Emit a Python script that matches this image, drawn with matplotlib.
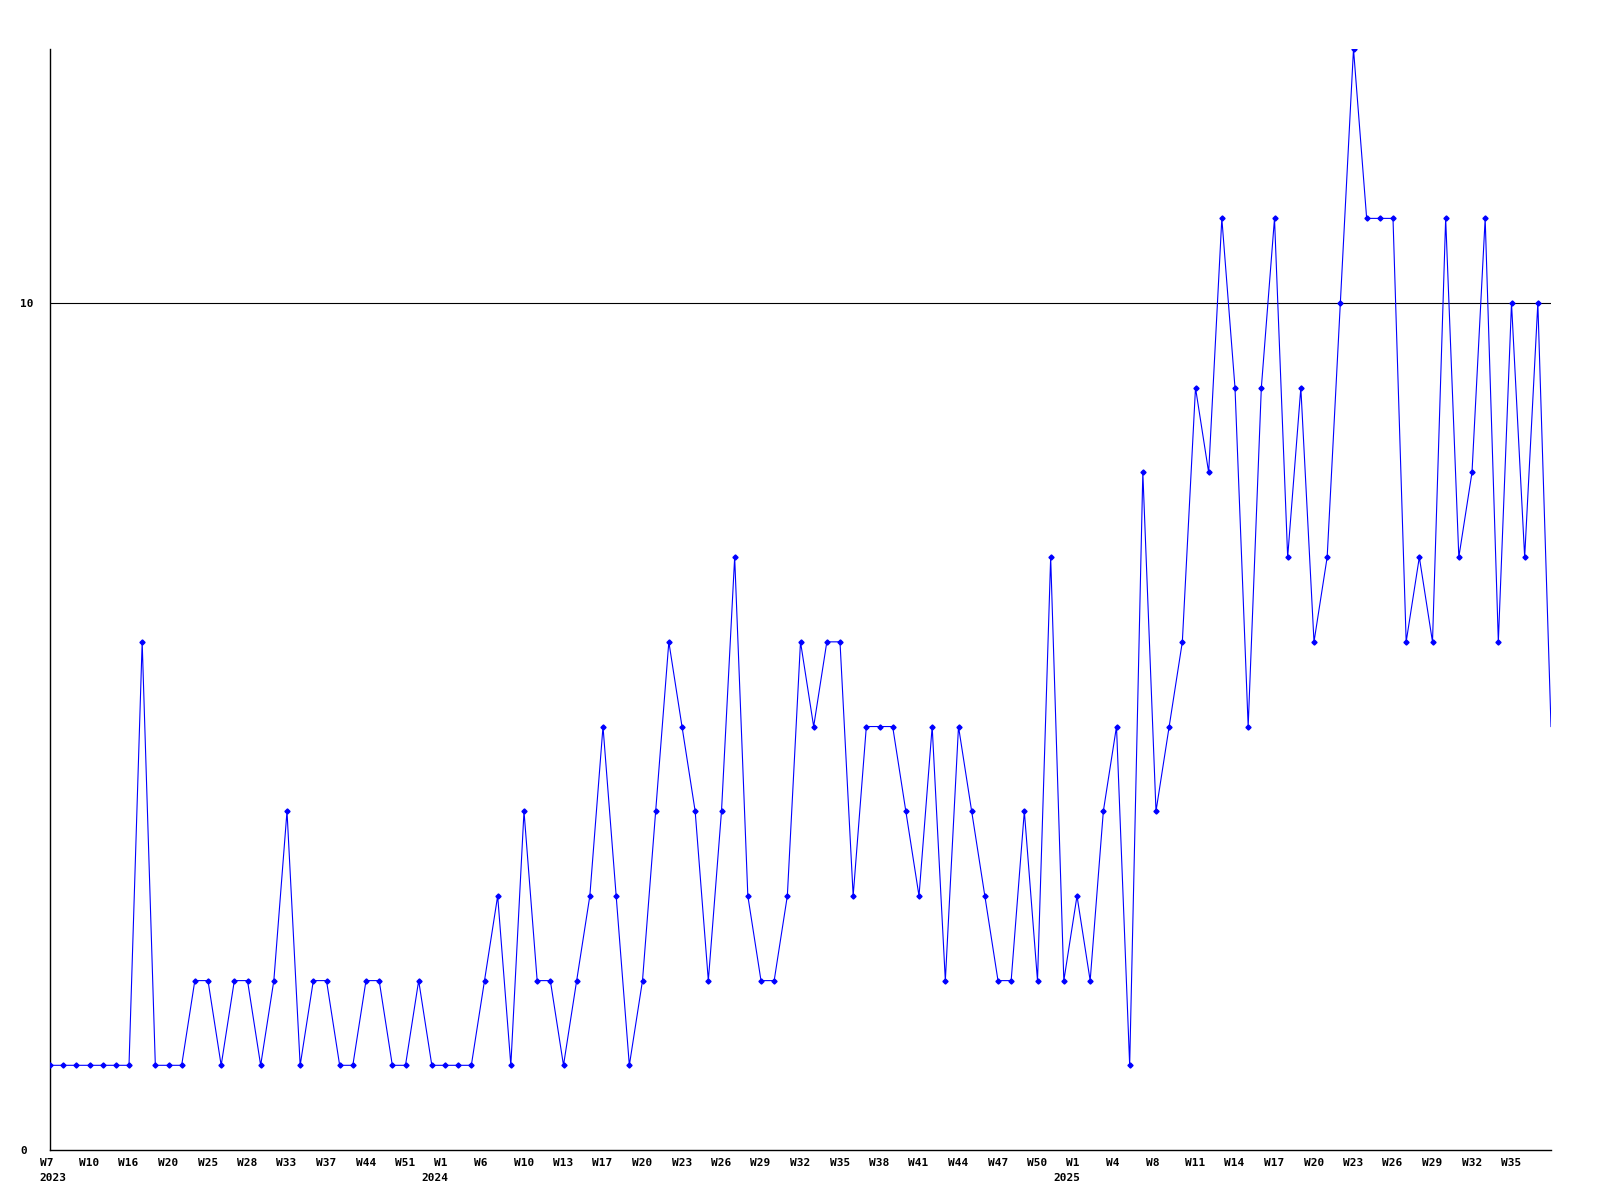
import matplotlib
matplotlib.use("Agg")
import matplotlib.pyplot as plt
from matplotlib.transforms import ScaledTranslation

weeks = ["W7", "", "", "W10", "", "", "W16", "", "", "W20", "", "", "W25", "", "", "W28", "", "", "W33", "", "", "W37", "", "", "W44", "", "", "W51", "", "",
         "W1", "", "", "W6", "", "", "W10", "", "", "W13", "", "", "W17", "", "", "W20", "", "", "W23", "", "", "W26", "", "", "W29", "", "", "W32", "", "",
         "W35", "", "", "W38", "", "", "W41", "", "", "W44", "", "", "W47", "", "", "W50", "", "",
         "W1", "", "", "W4", "", "", "W8", "", "", "W11", "", "", "W14", "", "", "W17", "", "", "W20", "", "", "W23", "", "", "W26", "", "", "W29", "", "",
         "W32", "", "", "W35", "", "", ""]
years = {0: "2023", 30: "2024", 78: "2025"}

values = [1, 1, 1, 1, 1, 1, 1, 6, 1, 1, 1, 2, 2, 1, 2, 2, 1, 2, 4, 1,
          2, 2, 1, 1, 2, 2, 1, 1, 2, 1, 1, 1, 1, 2, 3, 1, 4, 2, 2, 1,
          2, 3, 5, 3, 1, 2, 4, 6, 5, 4, 2, 4, 7, 3, 2, 2, 3, 6, 5, 6,
          6, 3, 5, 5, 5, 4, 3, 5, 2, 5, 4, 3, 2, 2, 4, 2, 7, 2, 3, 2,
          4, 5, 1, 8, 4, 5, 6, 9, 8, 11, 9, 5, 9, 11, 7, 9, 6, 7, 10, 13,
          11, 11, 11, 6, 7, 6, 11, 7, 8, 11, 6, 10, 7, 10, 5]

ytick_values = [0, 10]

DPI = 100
fig = plt.figure(figsize=(16, 12), dpi=DPI)
ax = fig.add_axes([50 / 1600, 1 - 1150 / 1200, 1501 / 1600, 1101 / 1200])

x = list(range(len(values)))
ax.plot(x, values, color="#0000ff", lw=0.8, marker="D", markersize=2.6,
        markerfacecolor="#0000ff", markeredgecolor="#0000ff", zorder=3,
        markevery=slice(0, len(values) - 1))
ax.axhline(10, color="black", lw=0.8, zorder=2)

ax.set_xlim(0, len(values) - 1)
ax.set_ylim(0, max(values))

font = dict(fontfamily="DejaVu Sans Mono", fontweight="bold", fontsize=8)

# x labels: drawn as text anchored at the data positions
ax.set_xticks([])
base = ax.get_xaxis_transform()
for i, w in enumerate(weeks):
    if not w:
        continue
    tr = base + ScaledTranslation(-10.5 / DPI, -16 / DPI, fig.dpi_scale_trans)
    ax.text(i, 0, w, transform=tr, ha="left", va="baseline", clip_on=False, **font)
for i, yr in years.items():
    dx = -10.5 if i == 0 else -23.5
    tr = base + ScaledTranslation(dx / DPI, -31.3 / DPI, fig.dpi_scale_trans)
    ax.text(i, 0, yr, transform=tr, ha="left", va="baseline", clip_on=False, **font)

ax.set_yticks(ytick_values)
ax.set_yticklabels([str(v) for v in ytick_values], **font)
for t in ax.get_yticklabels():
    t.set_ha("left")
ax.tick_params(axis="y", length=0, pad=21.5)

for s in ["top", "right"]:
    ax.spines[s].set_visible(False)
for s in ["left", "bottom"]:
    ax.spines[s].set_color("black")
    ax.spines[s].set_linewidth(1.0)

fig.savefig("out.png", dpi=DPI, facecolor="white")
